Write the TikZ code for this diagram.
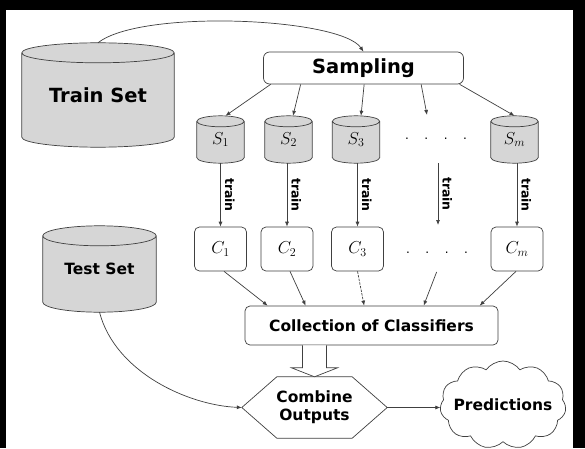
\documentclass[tikz,border=0pt]{standalone}
\usepackage{fontspec}
\setmainfont{DejaVu Sans}
\usetikzlibrary{arrows.meta,shapes.symbols,calc,backgrounds}
\newcommand\cylshape[2]{%
  \path[cylstyle] let \p1=(#1.north west), \p2=(#1.south east), \n1={(\x2-\x1)/2} in
    (\x1,\y1-#2) -- (\x1,\y2+#2) arc[start angle=180,end angle=360,x radius=\n1,y radius=#2]
    -- (\x2,\y1-#2) arc[start angle=0,end angle=180,x radius=\n1,y radius=#2] -- cycle
    (\x1,\y1-#2) arc[start angle=180,end angle=360,x radius=\n1,y radius=#2];
}
\begin{document}
\begin{tikzpicture}[x=1pt,y=1pt,
  line/.style={draw=black!75, line width=0.7pt},
  arr/.style={line, -{Latex[length=5pt,width=4pt]}},
  cylstyle/.style={draw=black!75, line width=0.7pt, fill=black!16},
  cylbox/.style={rectangle, inner sep=0pt},
  box/.style={draw=black!75, line width=0.7pt, rounded corners=5pt, fill=white, inner sep=0pt},
  bigtxt/.style={font=\fontsize{19.5}{22}\selectfont\bfseries},
  txt/.style={font=\fontsize{15.5}{18}\selectfont\bfseries},
  mathtxt/.style={font=\fontsize{17}{19}\selectfont},
  dotstxt/.style={font=\fontsize{12}{14}\selectfont, inner sep=0pt},
  trainlbl/.style={rotate=-90, anchor=south, font=\fontsize{12.5}{14}\selectfont\bfseries, inner sep=4pt}
]
\useasboundingbox (0,0) rectangle (585,448);

% nodes
\node[cylbox, minimum width=152pt, minimum height=104pt, bigtxt] (trainset) at (98,353) {\raisebox{-4pt}{Train Set}};
\node[box, rounded corners=6pt, minimum width=200pt, minimum height=32pt, bigtxt] (samp) at (363.5,380) {Sampling};

\node[cylbox, minimum width=47pt, minimum height=47pt, mathtxt] (s1) at (220.5,308.5) {\raisebox{-5pt}{$S_1$}};
\node[cylbox, minimum width=47pt, minimum height=47pt, mathtxt] (s2) at (288.5,308.5) {\raisebox{-5pt}{$S_2$}};
\node[cylbox, minimum width=47pt, minimum height=47pt, mathtxt] (s3) at (356,308.5) {\raisebox{-5pt}{$S_3$}};
\node[cylbox, minimum width=47pt, minimum height=47pt, mathtxt] (sm) at (514.5,308.5) {\raisebox{-5pt}{$S_m$}};
\node[dotstxt] (dots1) at (436,309) {.\hspace{15.5pt}.\hspace{15.5pt}.\hspace{15.5pt}.};

\node[box, minimum width=52pt, minimum height=44pt, mathtxt] (c1) at (220.5,199) {$C_1$};
\node[box, minimum width=52pt, minimum height=44pt, mathtxt] (c2) at (287,199) {$C_2$};
\node[box, minimum width=52pt, minimum height=44pt, mathtxt] (c3) at (357.5,199) {$C_3$};
\node[box, minimum width=52pt, minimum height=44pt, mathtxt] (cm) at (517,199) {$C_m$};
\node[dotstxt] (dots2) at (437,195) {.\hspace{15.5pt}.\hspace{15.5pt}.\hspace{15.5pt}.};

\node[box, minimum width=253pt, minimum height=39pt, txt] (coll) at (371.5,122.5) {Collection of Classifiers};

\node[cylbox, minimum width=113pt, minimum height=86pt, txt] (testset) at (99.5,179) {\raisebox{-4pt}{Test Set}};

\node[rectangle, inner sep=0pt, minimum width=145pt, minimum height=61pt, align=center, txt] (comb) at (314.5,40.5) {Combine\\Outputs};
\node[cloud, draw=black!75, line width=0.7pt, cloud puffs=11, cloud puff arc=110, minimum width=126pt, minimum height=88pt, inner sep=0pt,
  label={[txt, inner sep=0pt]center:Predictions}] (pred) at (503,43) {};

\coordinate (dsamp) at (427,333);
\coordinate (dtop) at (438,285);
\coordinate (dbot) at (438,223);
\coordinate (dcout) at (436.6,176);

% background: frame and cylinders
\begin{pgfonlayer}{background}
  \fill[black] (0,0) rectangle (585,448);
  \fill[white] (6,0) rectangle (573,438);
  \cylshape{trainset}{10pt}
  \cylshape{testset}{10pt}
  \cylshape{s1}{5.5pt}
  \cylshape{s2}{5.5pt}
  \cylshape{s3}{5.5pt}
  \cylshape{sm}{5.5pt}
\end{pgfonlayer}

% hexagon
\draw[line] (comb.west) -- ([xshift=35pt]comb.north west) -- ([xshift=-35pt]comb.north east)
  -- (comb.east) -- ([xshift=-35pt]comb.south east) -- ([xshift=35pt]comb.south west) -- cycle;

% train set -> sampling
\draw[arr] (trainset.north) .. controls +(43,34) and +(-23,34) .. (samp.north);

% sampling -> samples
\draw[arr] ([xshift=7.5pt]samp.south west) -- ([xshift=5pt]s1.north);
\draw[arr] ([xshift=37.5pt]samp.south west) -- ([xshift=4.5pt]s2.north);
\draw[arr] ([xshift=101pt]samp.south west) -- ([xshift=5pt]s3.north);
\draw[arr] ([xshift=158pt]samp.south west) -- (dsamp);
\draw[arr] ([xshift=196.5pt]samp.south west) -- (sm.north);

% train arrows
\draw[arr] (c1.north |- s1.south) -- (c1.north) node[midway, trainlbl] {train};
\draw[arr] (c2.north |- s2.south) -- (c2.north) node[midway, trainlbl] {train};
\draw[arr] (c3.north |- s3.south) -- (c3.north) node[midway, trainlbl] {train};
\draw[arr] (dtop) -- (dbot) node[midway, trainlbl] {train};
\draw[arr] (cm.north |- sm.south) -- (cm.north) node[midway, trainlbl] {train};

% classifiers -> collection
\draw[arr] ([xshift=3.5pt]c1.south) -- ([xshift=23pt]coll.north west);
\draw[arr] ([xshift=3pt]c2.south) -- ([xshift=61pt]coll.north west);
\draw[arr, dash pattern=on 2.5pt off 1.2pt] (c3.south) -- ([xshift=119.5pt]coll.north west);
\draw[arr] (dcout) -- ([xshift=179pt]coll.north west);
\draw[arr] ([xshift=-1pt]cm.south) -- ([xshift=235pt]coll.north west);

% hollow arrow collection -> combine
\draw[line, fill=white, line join=miter]
  ($(comb.north |- coll.south)+(-12,0)$) -- ($(comb.north)+(-12,9)$) -- ($(comb.north)+(-23,9)$)
  -- (comb.north) -- ($(comb.north)+(23,9)$) -- ($(comb.north)+(12,9)$)
  -- ($(comb.north |- coll.south)+(12,0)$);

% test set -> combine
\draw[arr] (testset.south) .. controls +(16,-61) and +(-52,2) .. (comb.west);

% combine -> predictions
\draw[arr] (comb.east) -- (comb.east -| pred.west);
\end{tikzpicture}
\end{document}
